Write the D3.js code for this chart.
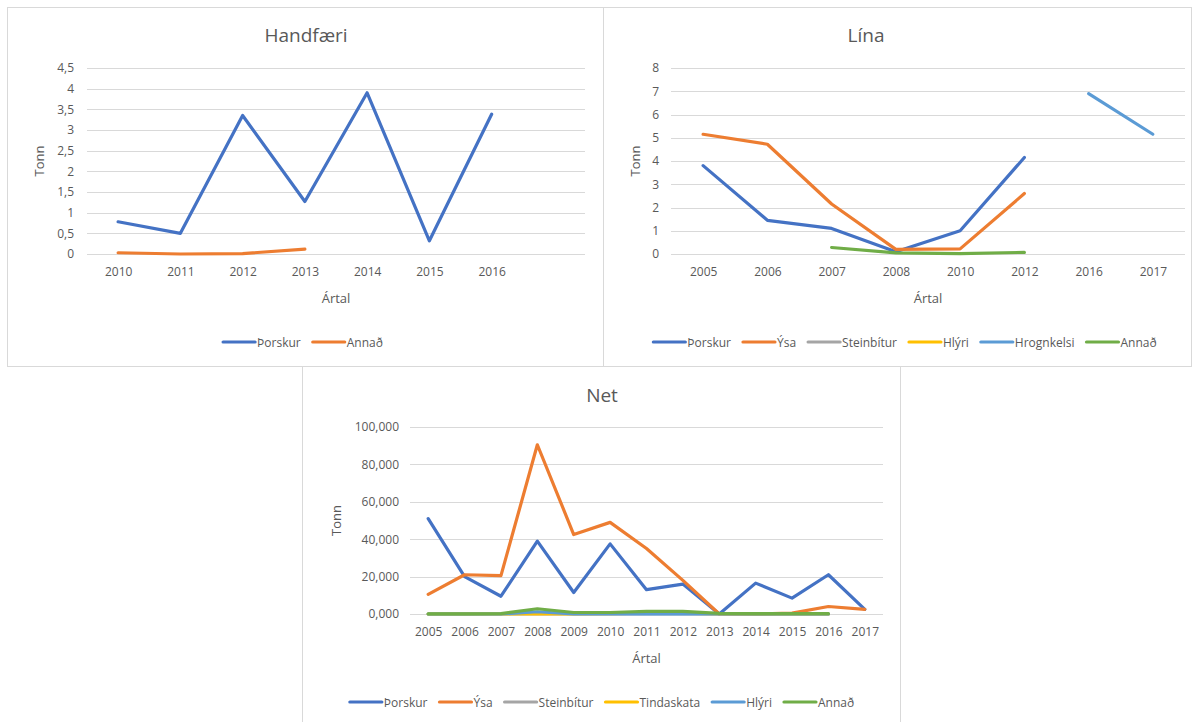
<!DOCTYPE html>
<html>
<head>
<meta charset="utf-8">
<script src="https://cdn.jsdelivr.net/npm/d3@7/dist/d3.min.js"></script>
<style>
  body { margin: 0; background: #fff; }
  svg text { font-family: "Open Sans", "Noto Sans", sans-serif; fill: #595959; }
</style>
</head>
<body>
<svg id="chart" width="1198" height="722"></svg>
<script>
// ---- data ----
var colors = { thorskur: "#4472C4", ysa: "#ED7D31", steinbitur: "#A5A5A5", tindaskata: "#FFC000", hlyri: "#5B9BD5", hrognkelsi: "#5B9BD5", annad: "#70AD47" };

// Handfæri
var handYears = ["2010", "2011", "2012", "2013", "2014", "2015", "2016", ""];
var handThorskur = [0.78, 0.5, 3.35, 1.27, 3.9, 0.32, 3.38, null];
var handAnnad = [0.03, 0.0, 0.01, 0.12, null, null, null, null];
var handTicks = [0, 0.5, 1, 1.5, 2, 2.5, 3, 3.5, 4, 4.5];
var handTickLabels = ["0", "0,5", "1", "1,5", "2", "2,5", "3", "3,5", "4", "4,5"];

// Lína
var linaYears = ["2005", "2006", "2007", "2008", "2010", "2012", "2016", "2017"];
var linaThorskur = [3.8, 1.45, 1.1, 0.1, 1.0, 4.15, null, null];
var linaYsa = [5.15, 4.72, 2.15, 0.2, 0.22, 2.6, null, null];
var linaSteinbitur = [null, null, null, null, null, null, null, null];
var linaHlyri = [null, null, null, null, null, null, null, null];
var linaHrognkelsi = [null, null, null, null, null, null, 6.9, 5.15];
var linaAnnad = [null, null, 0.28, 0.05, 0.02, 0.07, null, null];
var linaTicks = [0, 1, 2, 3, 4, 5, 6, 7, 8];
var linaTickLabels = ["0", "1", "2", "3", "4", "5", "6", "7", "8"];

// Net
var netYears = ["2005", "2006", "2007", "2008", "2009", "2010", "2011", "2012", "2013", "2014", "2015", "2016", "2017"];
var netThorskur = [51000, 20000, 9500, 39000, 11500, 37500, 13000, 16000, 0, 16500, 8500, 21000, 2500];
var netYsa = [10500, 21000, 20500, 90500, 42500, 49000, 35000, 18000, 0, 0, 500, 4000, 2500];
var netSteinbitur = [0, 0, 0, 0, 0, 0, 0, 0, 0, 0, 0, 0, null];
var netTindaskata = [0, 0, 0, 0, 0, 200, 400, 400, 0, 0, 0, 0, null];
var netHlyri = [0, 0, 0, 1200, 0, 0, 0, 0, 0, 0, 0, 0, null];
var netAnnad = [100, 100, 200, 2800, 800, 800, 1400, 1400, 300, 200, 200, 200, null];
var netTicks = [0, 20000, 40000, 60000, 80000, 100000];
var netTickLabels = ["0,000", "20,000", "40,000", "60,000", "80,000", "100,000"];

var svg = d3.select("#chart");

// panel borders
var borderColor = "#d9d9d9";
svg.append("rect").attr("x", 7.5).attr("y", 7.5).attr("width", 596).attr("height", 359)
  .attr("fill", "none").attr("stroke", borderColor);
svg.append("rect").attr("x", 603.5).attr("y", 7.5).attr("width", 588).attr("height", 359)
  .attr("fill", "none").attr("stroke", borderColor);
svg.append("rect").attr("x", 302.5).attr("y", 366.5).attr("width", 598).attr("height", 360)
  .attr("fill", "none").attr("stroke", borderColor);

function drawChart(cfg) {
  var g = svg.append("g");
  var x = d3.scalePoint().domain(cfg.cats).range([cfg.left, cfg.right]).padding(0.5);
  var y = d3.scaleLinear().domain([0, cfg.max]).range([cfg.bottom, cfg.top]);

  // gridlines
  g.append("g").selectAll("line").data(cfg.ticks).enter().append("line")
    .attr("x1", cfg.left).attr("x2", cfg.right)
    .attr("y1", function (d) { return Math.round(y(d)) + 0.5; })
    .attr("y2", function (d) { return Math.round(y(d)) + 0.5; })
    .attr("stroke", "#d9d9d9").attr("stroke-width", 1);

  // y axis labels
  var yAxis = d3.axisLeft(y).tickValues(cfg.ticks).tickSize(0).tickPadding(0)
    .tickFormat(function (d, i) { return cfg.tickLabels[i]; });
  var ya = g.append("g").attr("transform", "translate(" + cfg.yLabelX + ",0)").call(yAxis);
  ya.select(".domain").remove();
  ya.selectAll("text").attr("font-size", 12).attr("fill", "#595959")
    .style("font-family", "'Open Sans', sans-serif");

  // x axis labels
  var xAxis = d3.axisBottom(x).tickSize(0).tickPadding(0);
  var xa = g.append("g").attr("transform", "translate(0," + cfg.xLabelY + ")").call(xAxis);
  xa.select(".domain").remove();
  xa.selectAll("text").attr("font-size", 12).attr("fill", "#595959")
    .style("font-family", "'Open Sans', sans-serif");

  // lines
  cfg.series.forEach(function (s) {
    var line = d3.line()
      .defined(function (d) { return d != null; })
      .x(function (d, i) { return x(cfg.cats[i]); })
      .y(function (d) { return y(d); });
    g.append("path").datum(s.values)
      .attr("d", line)
      .attr("fill", "none")
      .attr("stroke", s.color)
      .attr("stroke-width", 3.2)
      .attr("stroke-linejoin", "round")
      .attr("stroke-linecap", "round");
  });

  // titles
  g.append("text").attr("x", cfg.titleX).attr("y", cfg.titleY)
    .attr("text-anchor", "middle").attr("font-size", 19).text(cfg.title);
  g.append("text")
    .attr("transform", "translate(" + cfg.yTitleX + "," + ((cfg.top + cfg.bottom) / 2) + ") rotate(-90)")
    .attr("text-anchor", "middle").attr("font-size", 13).text("Tonn");
  g.append("text").attr("x", (cfg.left + cfg.right) / 2).attr("y", cfg.xTitleY)
    .attr("text-anchor", "middle").attr("font-size", 13).text("Ártal");

  // legend
  var leg = g.append("g");
  var cx = 0, gap = 12;
  cfg.series.forEach(function (s, i) {
    var item = leg.append("g").attr("transform", "translate(" + cx + ",0)");
    item.append("line").attr("x1", 0).attr("x2", 32).attr("y1", 0).attr("y2", 0)
      .attr("stroke", s.color).attr("stroke-width", 3.2).attr("stroke-linecap", "round");
    var t = item.append("text").attr("x", 34).attr("y", 4.5).attr("font-size", 12).text(s.name);
    cx += 34 + t.node().getComputedTextLength() + gap;
  });
  var total = cx - gap;
  leg.attr("transform", "translate(" + (cfg.legendCX - total / 2) + "," + cfg.legendY + ")");
}

drawChart({
  title: "Handfæri", titleX: 306, titleY: 42,
  cats: handYears, max: 4.5, ticks: handTicks, tickLabels: handTickLabels,
  left: 87, right: 585, top: 68, bottom: 254,
  yLabelX: 74, xLabelY: 267, yTitleX: 44, xTitleY: 303,
  legendCX: 303, legendY: 342,
  series: [
    { name: "Þorskur", color: colors.thorskur, values: handThorskur },
    { name: "Annað", color: colors.ysa, values: handAnnad }
  ]
});

drawChart({
  title: "Lína", titleX: 866, titleY: 42,
  cats: linaYears, max: 8, ticks: linaTicks, tickLabels: linaTickLabels,
  left: 671, right: 1185, top: 68, bottom: 254,
  yLabelX: 659, xLabelY: 267, yTitleX: 640, xTitleY: 303,
  legendCX: 905, legendY: 342,
  series: [
    { name: "Þorskur", color: colors.thorskur, values: linaThorskur },
    { name: "Ýsa", color: colors.ysa, values: linaYsa },
    { name: "Steinbítur", color: colors.steinbitur, values: linaSteinbitur },
    { name: "Hlýri", color: colors.tindaskata, values: linaHlyri },
    { name: "Hrognkelsi", color: colors.hrognkelsi, values: linaHrognkelsi },
    { name: "Annað", color: colors.annad, values: linaAnnad }
  ]
});

drawChart({
  title: "Net", titleX: 602, titleY: 402,
  cats: netYears, max: 100000, ticks: netTicks, tickLabels: netTickLabels,
  left: 410, right: 883, top: 427, bottom: 614,
  yLabelX: 399, xLabelY: 627, yTitleX: 341, xTitleY: 663,
  legendCX: 602, legendY: 702,
  series: [
    { name: "Þorskur", color: colors.thorskur, values: netThorskur },
    { name: "Ýsa", color: colors.ysa, values: netYsa },
    { name: "Steinbítur", color: colors.steinbitur, values: netSteinbitur },
    { name: "Tindaskata", color: colors.tindaskata, values: netTindaskata },
    { name: "Hlýri", color: colors.hlyri, values: netHlyri },
    { name: "Annað", color: colors.annad, values: netAnnad }
  ]
});
</script>
</body>
</html>
